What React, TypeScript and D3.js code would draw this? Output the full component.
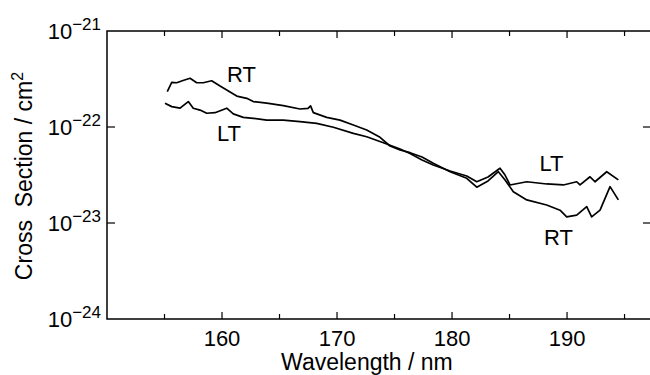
import React, { useEffect, useRef } from 'react';
import * as d3 from 'd3';

// wavelength (nm) and cross section (cm^2)
const rtWave = [155.24, 155.63, 156.06, 156.61, 157.22, 157.8, 158.37, 159.1, 159.83, 160.41, 161.28, 162.15, 162.72, 163.89, 165.33, 166.78, 167.48, 167.7, 167.94, 169.1, 170.26, 171.42, 172.58, 173.74, 174.61, 175.48, 176.35, 177.39, 178.37, 179.83, 181.28, 182.15, 183.13, 184.03, 184.61, 185.33, 186.5, 188.23, 189.39, 189.97, 190.84, 191.71, 192.14, 192.87, 193.74, 194.46];
const rtValue = [2.33e-22, 2.92e-22, 2.89e-22, 3.05e-22, 3.22e-22, 2.89e-22, 2.89e-22, 3.03e-22, 2.67e-22, 2.43e-22, 2.1e-22, 1.99e-22, 1.84e-22, 1.77e-22, 1.67e-22, 1.54e-22, 1.56e-22, 1.66e-22, 1.41e-22, 1.26e-22, 1.18e-22, 1.05e-22, 9.31e-23, 7.81e-23, 6.34e-23, 5.76e-23, 5.4e-23, 4.87e-23, 4.19e-23, 3.42e-23, 2.92e-23, 2.36e-23, 2.74e-23, 3.42e-23, 2.81e-23, 2.12e-23, 1.74e-23, 1.54e-23, 1.36e-23, 1.16e-23, 1.21e-23, 1.48e-23, 1.16e-23, 1.36e-23, 2.39e-23, 1.74e-23];

const ltWave = [155.04, 155.63, 156.35, 157.07, 157.5, 158.09, 158.67, 159.39, 160.41, 160.98, 161.85, 162.72, 163.89, 165.33, 166.78, 168.23, 169.68, 171.42, 172.58, 174.03, 175.48, 176.35, 177.39, 178.37, 179.83, 181.28, 182.15, 183.13, 184.17, 184.61, 185.04, 186.5, 188.23, 189.68, 190.84, 191.13, 192.0, 192.43, 193.45, 194.46];
const ltValue = [1.77e-22, 1.63e-22, 1.57e-22, 1.84e-22, 1.57e-22, 1.5e-22, 1.39e-22, 1.41e-22, 1.57e-22, 1.37e-22, 1.26e-22, 1.23e-22, 1.18e-22, 1.18e-22, 1.14e-22, 1.09e-22, 9.93e-23, 8.59e-23, 7.92e-23, 6.86e-23, 5.9e-23, 5.29e-23, 4.53e-23, 4.02e-23, 3.48e-23, 3.09e-23, 2.69e-23, 3.01e-23, 3.72e-23, 3.16e-23, 2.49e-23, 2.69e-23, 2.55e-23, 2.49e-23, 2.69e-23, 2.49e-23, 3.03e-23, 2.69e-23, 3.42e-23, 2.81e-23];

const xMajor = [160, 170, 180, 190];
const xMinor = [155, 165, 175, 185, 195];
const yTicks = [-21, -22, -23, -24];

// curve labels: [text, wavelength, value at baseline]
const curveLabels: [string, number, number][] = [
  ['RT', 161.7, 2.94e-22],
  ['LT', 160.6, 7.15e-23],
  ['LT', 188.65, 3.48e-23],
  ['RT', 189.26, 5.9e-24],
];

const W = 650;
const H = 375;
const margin = { left: 107, top: 31, right: 651, bottom: 319 };
const font = '"Liberation Sans", Arial, Helvetica, sans-serif';

function App() {
  const svgRef = useRef<SVGSVGElement>(null);

  useEffect(() => {
    const svg = d3.select(svgRef.current);
    svg.selectAll('*').remove();

    const x = d3.scaleLinear().domain([150, 197.3]).range([margin.left, margin.right]);
    const y = d3.scaleLog().domain([1e-24, 1e-21]).range([margin.bottom, margin.top]);

    const line = d3.line<[number, number]>()
      .x(d => x(d[0]))
      .y(d => y(d[1]));

    const rt = rtWave.map((w, i) => [w, rtValue[i]] as [number, number]);
    const lt = ltWave.map((w, i) => [w, ltValue[i]] as [number, number]);

    // frame
    svg.append('rect')
      .attr('x', margin.left)
      .attr('y', margin.top)
      .attr('width', margin.right - margin.left)
      .attr('height', margin.bottom - margin.top)
      .attr('fill', 'none')
      .attr('stroke', '#000')
      .attr('stroke-width', 1.5);

    // inward ticks, bottom and top
    const ticks = svg.append('g').attr('stroke', '#000').attr('stroke-width', 1.2);
    xMajor.concat(xMinor).forEach(v => {
      const len = xMajor.includes(v) ? 7 : 5;
      ticks.append('line').attr('x1', x(v)).attr('x2', x(v))
        .attr('y1', margin.bottom).attr('y2', margin.bottom - len);
      ticks.append('line').attr('x1', x(v)).attr('x2', x(v))
        .attr('y1', margin.top).attr('y2', margin.top + len);
    });
    yTicks.slice(1, 3).forEach(p => {
      const yy = y(Math.pow(10, p));
      ticks.append('line').attr('x1', margin.left).attr('x2', margin.left + 8).attr('y1', yy).attr('y2', yy);
      ticks.append('line').attr('x1', margin.right - 8).attr('x2', margin.right).attr('y1', yy).attr('y2', yy);
    });

    // x tick labels
    svg.append('g').selectAll('text')
      .data(xMajor)
      .enter()
      .append('text')
      .attr('x', d => x(d))
      .attr('y', 346)
      .attr('text-anchor', 'middle')
      .attr('font-family', font)
      .attr('font-size', 22)
      .text(d => d);

    // y tick labels 10^n
    yTicks.forEach(p => {
      const t = svg.append('text')
        .attr('x', 101)
        .attr('y', y(Math.pow(10, p)) + 8)
        .attr('text-anchor', 'end')
        .attr('font-family', font)
        .attr('font-size', 22);
      t.append('tspan').text('10');
      t.append('tspan').attr('dy', -9).attr('font-size', 17).text('\u2212' + Math.abs(p));
    });

    // axis titles
    svg.append('text')
      .attr('x', x(172.6))
      .attr('y', 370)
      .attr('text-anchor', 'middle')
      .attr('font-family', font)
      .attr('font-size', 23)
      .text('Wavelength / nm');

    const yt = svg.append('text')
      .attr('transform', 'translate(32,176) rotate(-90)')
      .attr('text-anchor', 'middle')
      .attr('font-family', font)
      .attr('font-size', 23)
      .style('white-space', 'pre');
    yt.append('tspan').text('Cross  Section / cm');
    yt.append('tspan').attr('dy', -9).attr('font-size', 16).text('2');

    // curves
    [rt, lt].forEach(data => {
      svg.append('path')
        .datum(data)
        .attr('d', line)
        .attr('fill', 'none')
        .attr('stroke', '#000')
        .attr('stroke-width', 1.7)
        .attr('stroke-linejoin', 'round');
    });

    // curve labels
    svg.append('g').selectAll('text')
      .data(curveLabels)
      .enter()
      .append('text')
      .attr('x', d => x(d[1]))
      .attr('y', d => y(d[2]))
      .attr('text-anchor', 'middle')
      .attr('font-family', font)
      .attr('font-size', 22)
      .text(d => d[0]);
  }, []);

  return (
    <svg ref={svgRef} width={W} height={H}
      style={{ position: 'absolute', left: 0, top: 0, background: '#fff' }} />
  );
}

export default App;
